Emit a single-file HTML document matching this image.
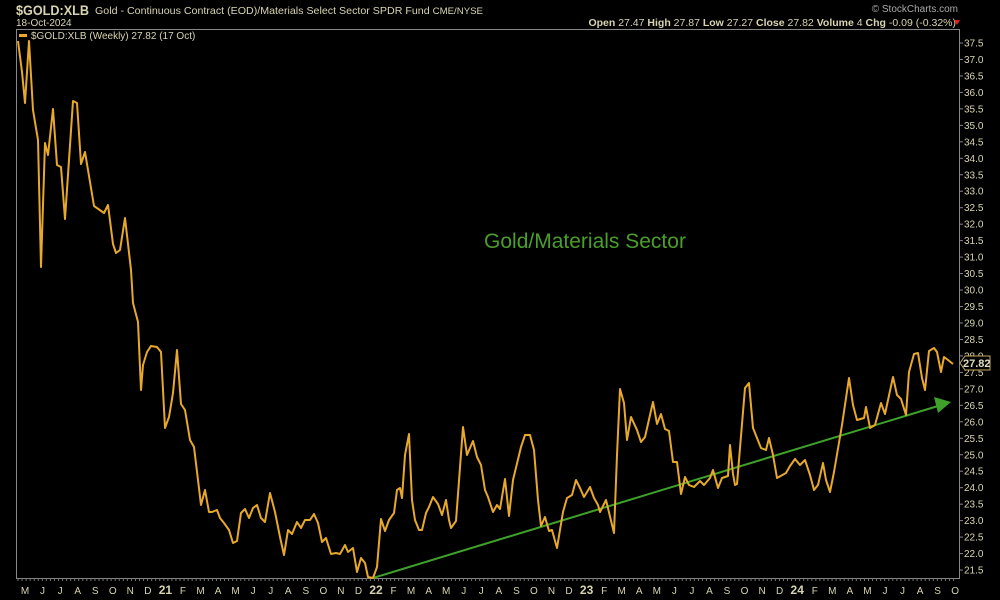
<!DOCTYPE html>
<html><head><meta charset="utf-8"><style>
html,body{margin:0;padding:0;background:#000;width:1000px;height:600px;overflow:hidden}
svg{display:block}
text{font-family:"Liberation Sans",sans-serif}
</style></head><body>
<svg width="1000" height="600" xmlns="http://www.w3.org/2000/svg">
<rect width="1000" height="600" fill="#000"/>
<text x="16" y="15" fill="#d8d4b0" font-size="14" font-weight="bold" textLength="73" lengthAdjust="spacingAndGlyphs">$GOLD:XLB</text>
<text x="95" y="14" fill="#d8d4b0" font-size="10.5" textLength="388" lengthAdjust="spacingAndGlyphs">Gold - Continuous Contract (EOD)/Materials Select Sector SPDR Fund <tspan font-size="9.5">CME/NYSE</tspan></text>
<text x="16" y="26" fill="#d8d4b0" font-size="10">18-Oct-2024</text>
<text x="958" y="12" fill="#aaa" font-size="10" text-anchor="end">© StockCharts.com</text>
<text x="956" y="26" fill="#d8d4b0" font-size="10.5" text-anchor="end"><tspan font-weight="bold">Open</tspan> 27.47  <tspan font-weight="bold">High</tspan> 27.87  <tspan font-weight="bold">Low</tspan> 27.27  <tspan font-weight="bold">Close</tspan> 27.82  <tspan font-weight="bold">Volume</tspan> 4  <tspan font-weight="bold">Chg</tspan> -0.09 (-0.32%)</text>
<polygon points="954,20 960,20 957,25" fill="#e02020"/>
<rect x="16.5" y="29.5" width="943" height="549" fill="none" stroke="#888" stroke-width="1"/>
<rect x="19" y="34" width="8" height="3" fill="#e8a82a"/>
<text x="31" y="39" fill="#d8d4b0" font-size="10" font-family="DejaVu Sans Mono, monospace">$GOLD:XLB (Weekly) 27.82 (17 Oct)</text>
<g id="yax" fill="#d8d4b0" font-size="10" stroke="none"></g>
<g id="xax" fill="#d8d4b0" font-size="10"></g>
<line x1="373" y1="578" x2="938" y2="406" stroke="#3ea12a" stroke-width="2"/>
<polygon points="951,402 934,397 938,413" fill="#3ea12a"/>
<polyline fill="none" stroke="#e8a82a" stroke-width="2" stroke-linejoin="round" points="18,41 22,72 25,103 29,41 33,110 38,140 41,267 45,143 48,155 53,109 57,165 61,167 65,219 73,101 77,103 81,164 85,152 89,176 94,206 104,213 108,205 113,244 116,253 120,250 125,218 131,270 133,303 138,322 141,390 143,365 147,352 151,346 157,347 161,352 165,428 169,417 173,393 177,350 181,404 185,410 190,440 194,447 198,480 201,505 205,490 209,512 212,512 217,510 220,518 224,523 229,530 233,543 237,541 241,513 245,509 249,518 253,508 257,505 261,518 265,522 270,493 275,512 280,537 284,555 288,530 292,534 297,522 301,528 305,520 310,520 314,514 318,523 322,542 326,538 331,554 336,553 340,554 345,545 348,552 353,548 357,572 361,558 365,563 368,577 373,578 377,567 381,519 385,531 389,520 394,513 397,490 400,488 402,498 405,455 409,434 412,500 415,520 419,530 422,530 426,513 429,507 433,497 438,504 442,515 446,500 449,520 451,528 456,521 463,427 467,455 473,441 477,457 481,465 485,490 488,497 493,512 497,505 500,509 505,479 509,516 513,480 521,447 525,435 530,435 534,450 538,500 541,526 545,517 549,531 552,530 557,548 563,512 567,498 572,495 576,480 580,488 584,497 590,487 594,498 598,505 600,512 606,500 614,533 617,455 620,389 624,403 627,440 631,417 637,430 641,442 645,437 653,402 657,424 661,414 665,429 669,431 673,462 677,462 681,494 685,477 689,485 694,487 700,481 704,485 710,478 713,470 718,488 722,478 728,476 730,445 733,474 735,485 737,484 745,388 749,383 753,428 761,448 766,450 769,438 773,455 777,478 786,473 790,466 795,459 800,465 805,460 810,475 814,490 818,485 823,463 826,480 830,492 834,472 842,425 849,378 853,405 857,420 864,418 866,407 870,428 875,425 881,403 885,414 893,377 897,395 901,399 906,415 909,372 914,354 918,353 922,378 925,390 929,351 934,348 937,352 941,372 944,357 948,360 953,364"/>
<text x="585" y="248" fill="#4a9e2a" font-size="21" text-anchor="middle">Gold/Materials Sector</text>
<polygon points="960,363 965,356 990,356 990,370 965,370" fill="#000" stroke="#c8a860" stroke-width="1"/>
<text x="963" y="367" fill="#e0dcc0" font-size="11" font-weight="bold">27.82</text>
</svg>
<script>
var ns="http://www.w3.org/2000/svg";
var y=document.getElementById("yax");
for(var v=21.5;v<=37.51;v+=0.5){var py=43+(37.5-v)*32.94;
 var l=document.createElementNS(ns,"line");l.setAttribute("x1",960);l.setAttribute("x2",963);l.setAttribute("y1",py);l.setAttribute("y2",py);l.setAttribute("stroke","#888");y.appendChild(l);
 var t=document.createElementNS(ns,"text");t.setAttribute("x",964);t.setAttribute("y",py+3.5);t.textContent=v.toFixed(1);y.appendChild(t);}
var x=document.getElementById("xax");
var labs=["M","J","J","A","S","O","N","D","21","F","M","A","M","J","J","A","S","O","N","D","22","F","M","A","M","J","J","A","S","O","N","D","23","F","M","A","M","J","J","A","S","O","N","D","24","F","M","A","M","J","J","A","S","O"];
for(var i=0;i<labs.length;i++){var px=25+i*17.55;
 var t=document.createElementNS(ns,"text");t.setAttribute("x",px);t.setAttribute("y",594);t.setAttribute("text-anchor","middle");
 if(labs[i].length==2){t.setAttribute("font-weight","bold");t.setAttribute("font-size","12");}
 t.textContent=labs[i];x.appendChild(t);}
for(var k=0;k<232;k++){var px=18+k*4.05;var l=document.createElementNS(ns,"line");l.setAttribute("x1",px);l.setAttribute("x2",px);l.setAttribute("y1",578);l.setAttribute("y2",581);l.setAttribute("stroke","#777");x.appendChild(l);}
</script>
</body></html>
